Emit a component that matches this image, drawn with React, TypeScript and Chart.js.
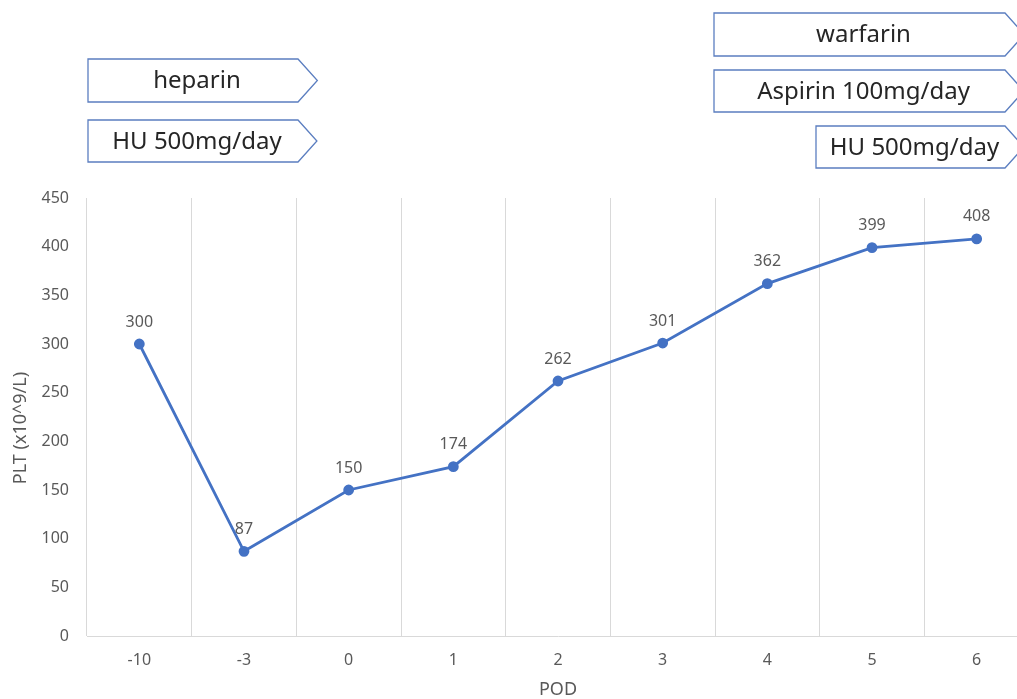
import React, { useEffect, useRef } from "react";
import { Chart, registerables } from "chart.js";

Chart.register(...registerables);

const categories = ["-10", "-3", "0", "1", "2", "3", "4", "5", "6"];
const pltValues = [300, 87, 150, 174, 262, 301, 362, 399, 408];
const yTicks = [0, 50, 100, 150, 200, 250, 300, 350, 400, 450];
const xTitle = "POD";
const yTitle = "PLT (x10^9/L)";

// Treatment arrow boxes (annotations above the chart)
const boxLabels = ["heparin", "HU 500mg/day", "warfarin", "Aspirin 100mg/day", "HU 500mg/day"];
const boxLefts = [88, 88, 714, 714, 816];
const boxRights = [298, 298, 1005, 1005, 1005];
const boxTops = [59, 120, 13, 70, 126];
const boxBottoms = [102, 162, 56, 112, 168];

const FONT = "'Noto Sans', 'DejaVu Sans', sans-serif";
const LINE_COLOR = "#4472C4";
const TEXT_GRAY = "#595959";

const labelsPlugin = {
  id: "valueLabels",
  afterDatasetsDraw(chart: any) {
    const ctx = chart.ctx;
    const meta = chart.getDatasetMeta(0);
    ctx.save();
    ctx.font = `16px ${FONT}`;
    ctx.fillStyle = TEXT_GRAY;
    ctx.textAlign = "center";
    ctx.textBaseline = "middle";
    meta.data.forEach((pt: any, i: number) => {
      ctx.fillText(String(pltValues[i]), pt.x, pt.y - 22);
    });
    ctx.restore();
  },
};

const yTitlePlugin = {
  id: "yTitle",
  afterDraw(chart: any) {
    const ctx = chart.ctx;
    ctx.save();
    ctx.translate(21, 428);
    ctx.rotate(-Math.PI / 2);
    ctx.font = `18px ${FONT}`;
    ctx.fillStyle = TEXT_GRAY;
    ctx.textAlign = "center";
    ctx.textBaseline = "middle";
    ctx.fillText(yTitle, 0, 0);
    ctx.restore();
  },
};

const boxesPlugin = {
  id: "arrowBoxes",
  afterDraw(chart: any) {
    const ctx = chart.ctx;
    ctx.save();
    boxLabels.forEach((label, i) => {
      const x0 = boxLefts[i];
      const x1 = boxRights[i];
      const y0 = boxTops[i];
      const y1 = boxBottoms[i];
      const ym = (y0 + y1) / 2;
      const tip = x1 + (y1 - y0) * 0.45;
      ctx.beginPath();
      ctx.moveTo(x0, y0);
      ctx.lineTo(x1, y0);
      ctx.lineTo(tip, ym);
      ctx.lineTo(x1, y1);
      ctx.lineTo(x0, y1);
      ctx.closePath();
      ctx.fillStyle = "#ffffff";
      ctx.fill();
      ctx.strokeStyle = "#5b7ec0";
      ctx.lineWidth = 1.3;
      ctx.stroke();
      ctx.font = `24px ${FONT}`;
      ctx.fillStyle = "#262626";
      ctx.textAlign = "center";
      ctx.textBaseline = "middle";
      ctx.fillText(label, (x0 + x1) / 2 + 4, ym + 1);
    });
    ctx.restore();
  },
};

export default function App() {
  const ref = useRef<HTMLCanvasElement>(null);
  useEffect(() => {
    document.body.style.margin = "0";
    document.body.style.overflow = "hidden";
    const chart = new Chart(ref.current!, {
      type: "line",
      data: {
        labels: categories,
        datasets: [
          {
            data: pltValues,
            borderColor: LINE_COLOR,
            backgroundColor: LINE_COLOR,
            borderWidth: 2.8,
            pointRadius: 4,
            pointBackgroundColor: LINE_COLOR,
            pointBorderColor: LINE_COLOR,
            tension: 0,
          },
        ],
      },
      options: {
        animation: false,
        responsive: false,
        maintainAspectRatio: false,
        layout: { padding: { top: 198, right: 16, bottom: 0, left: 0 } },
        plugins: {
          legend: { display: false },
          tooltip: { enabled: false },
        },
        scales: {
          x: {
            offset: true,
            grid: { offset: true, color: "#d9d9d9", drawTicks: false, lineWidth: 1 },
            border: { display: true, color: "#d9d9d9" },
            ticks: { color: TEXT_GRAY, font: { size: 16, family: FONT }, padding: 15 },
            title: {
              display: true,
              text: xTitle,
              color: TEXT_GRAY,
              font: { size: 18, family: FONT, lineHeight: 1 },
              padding: { top: 4, bottom: 0 },
            },
            afterFit(scale: any) {
              scale.height = 63;
            },
          },
          y: {
            min: 0,
            max: 450,
            afterBuildTicks(scale: any) {
              scale.ticks = yTicks.map((v) => ({ value: v }));
            },
            grid: { display: false, drawTicks: false },
            border: { display: false },
            ticks: { color: TEXT_GRAY, font: { size: 16, family: FONT }, padding: 18 },
            title: { display: false },
            afterFit(scale: any) {
              scale.width = 87;
            },
          },
        },
      },
      plugins: [labelsPlugin, yTitlePlugin, boxesPlugin],
    });
    return () => chart.destroy();
  }, []);
  return (
    <div style={{ position: "fixed", left: 0, top: 0, width: 1017, height: 699, overflow: "hidden", background: "#fff" }}>
      <canvas ref={ref} width={1045} height={699} style={{ display: "block", width: 1045, height: 699 }} />
    </div>
  );
}
